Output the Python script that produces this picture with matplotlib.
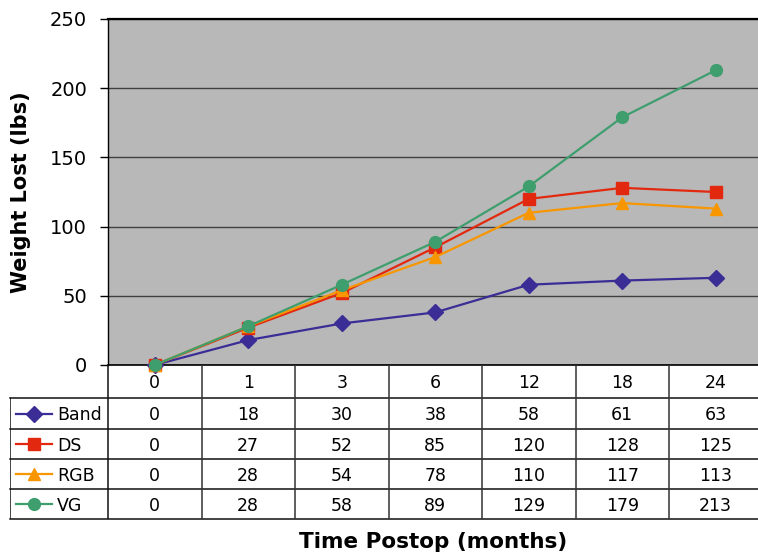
import matplotlib
matplotlib.use("Agg")
import matplotlib.pyplot as plt

# ── data ─────────────────────────────────────────────────────────────────────
months = ["0", "1", "3", "6", "12", "18", "24"]
band = [0, 18, 30, 38, 58, 61, 63]
ds   = [0, 27, 52, 85, 120, 128, 125]
rgb  = [0, 28, 54, 78, 110, 117, 113]
vg   = [0, 28, 58, 89, 129, 179, 213]

series = [
    ("Band", band, "#3B2D96", "D", 8.0),
    ("DS",   ds,   "#E2290F", "s", 8.0),
    ("RGB",  rgb,  "#F89600", "^", 9.0),
    ("VG",   vg,   "#3F9E6E", "o", 8.5),
]

W, H = 758, 555
fig = plt.figure(figsize=(W / 100, H / 100), dpi=100)
plt.rcParams["font.family"] = ["DejaVu Sans"]

# pixel layout of the reference
PLOT_L, PLOT_R, PLOT_T, PLOT_B = 108, 758, 19, 365
TAB_L, TAB_B = 10, 519
unit = 93.5                       # px per category
x_right = -0.5 + (PLOT_R - PLOT_L) / unit

ax = fig.add_axes([PLOT_L / W, 1 - PLOT_B / H, (PLOT_R - PLOT_L) / W, (PLOT_B - PLOT_T) / H])
ax.set_facecolor("#B8B8B8")
xs = list(range(len(months)))
for name, vals, col, mk, ms in series:
    ax.plot(xs, vals, color=col, lw=1.6, marker=mk, ms=ms, mec=col, mfc=col, zorder=3, clip_on=False)

ax.set_xlim(-0.5, x_right)
ax.set_ylim(0, 250)
ax.set_yticks([0, 50, 100, 150, 200, 250])
ax.yaxis.grid(True, color="#404040", lw=1.0)
ax.set_axisbelow(True)
ax.set_xticks([])
ax.tick_params(axis="y", direction="out", length=6, width=1, labelsize=14, pad=9)
ax.spines["right"].set_visible(False)
ax.spines["top"].set_linewidth(1.6)
ax.spines["left"].set_linewidth(1.0)
ax.spines["bottom"].set_linewidth(1.2)
ax.set_ylabel("Weight Lost (lbs)", fontsize=15, fontweight="bold", labelpad=14)

# ── data table under the plot ────────────────────────────────────────────────
tab = fig.add_axes([TAB_L / W, 1 - TAB_B / H, (PLOT_R - TAB_L) / W, (TAB_B - PLOT_B) / H])
x_left = -0.5 - (PLOT_L - TAB_L) / unit
tab.set_xlim(x_left, x_right)
tab.set_ylim(TAB_B - PLOT_B, 0)
tab.axis("off")

rows = [0, 33, 64, 94, 124, 154]
lc = "#111111"
for r in rows[1:]:
    tab.plot([x_left, x_right], [r, r], color=lc, lw=1.1, clip_on=False)
tab.plot([x_left, x_left], [rows[1], rows[-1]], color=lc, lw=1.1)
tab.plot([-0.5, -0.5], [0, rows[-1]], color=lc, lw=1.1)
for i in range(len(months) - 1):
    tab.plot([i + 0.5, i + 0.5], [0, rows[-1]], color="#333333", lw=1.1)

fs = 12.5
for i, m in enumerate(months):
    tab.text(i, (rows[0] + rows[1]) / 2 + 1, m, ha="center", va="center", fontsize=fs)

for k, (name, vals, col, mk, ms) in enumerate(series):
    yc = (rows[k + 1] + rows[k + 2]) / 2 + 2
    for i, v in enumerate(vals):
        tab.text(i, yc, str(v), ha="center", va="center", fontsize=fs)
    lx0 = x_left + 6 / unit
    lx1 = x_left + 42 / unit
    tab.plot([lx0, lx1], [yc - 2, yc - 2], color=col, lw=1.6)
    tab.plot([(lx0 + lx1) / 2], [yc - 2], marker=mk, ms=ms, color=col, lw=0)
    tab.text(x_left + 47 / unit, yc, name, ha="left", va="center", fontsize=fs)

fig.text((PLOT_L + PLOT_R) / 2 / W, 1 - 542 / H, "Time Postop (months)",
         ha="center", va="center", fontsize=15.5, fontweight="bold")

fig.savefig("out.png", dpi=100)
